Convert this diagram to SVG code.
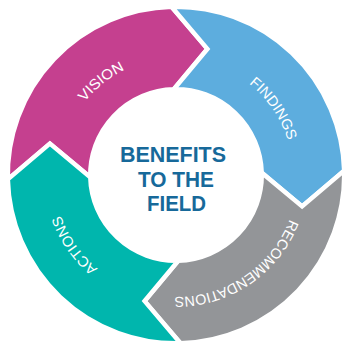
<svg xmlns="http://www.w3.org/2000/svg" xmlns:xlink="http://www.w3.org/1999/xlink" width="343" height="343" viewBox="0 0 343 343">
<style>
.seg{stroke:#fff;stroke-width:4.5;stroke-linejoin:miter}
.lbl{font-family:"Liberation Sans","DejaVu Sans",sans-serif;font-size:14.5px;fill:#fff;text-anchor:middle}
.ctr{font-family:"Liberation Sans","DejaVu Sans",sans-serif;font-weight:bold;font-size:21.5px;fill:#17699A;text-anchor:middle}
</style>
<defs>
<path id="c117" d="M176 58 A117 117 0 1 1 176 292 A117 117 0 1 1 176 58"/>
<path id="c122" d="M176 53 A122 122 0 1 1 176 297 A122 122 0 1 1 176 53"/>
</defs>
<rect width="343" height="343" fill="#fff"/>
<g id="vision">
<path class="seg" fill="#C5408F" d="M7.81 179.4 A168.25 168.25 0 0 1 171.6 6.81 L207.4 48.9 L173.76 89.28 A85.75 85.75 0 0 0 90.28 177.25 L49.9 143.6 Z"/>
<text class="lbl"><textPath xlink:href="#c117" startOffset="89.25%" textLength="52" lengthAdjust="spacingAndGlyphs">VISION</textPath></text>
</g>
<g id="findings">
<path class="seg" fill="#5DADDE" d="M171.6 6.81 A168.25 168.25 0 0 1 344.19 170.6 L302.1 206.4 L261.72 172.76 A85.75 85.75 0 0 0 173.76 89.28 L207.4 48.9 Z"/>
<text class="lbl"><textPath xlink:href="#c117" startOffset="15.47%" textLength="70" lengthAdjust="spacingAndGlyphs">FINDINGS</textPath></text>
</g>
<g id="recommendations">
<path class="seg" fill="#939598" d="M344.19 170.6 A168.25 168.25 0 0 1 180.4 343.19 L144.6 301.1 L178.25 260.72 A85.75 85.75 0 0 0 261.72 172.76 L302.1 206.4 Z"/>
<text class="lbl"><textPath xlink:href="#c122" startOffset="40.56%" textLength="148" lengthAdjust="spacingAndGlyphs">RECOMMENDATIONS</textPath></text>
</g>
<g id="actions">
<path class="seg" fill="#00B6AD" d="M180.4 343.19 A168.25 168.25 0 0 1 7.81 179.4 L49.9 143.6 L90.28 177.25 A85.75 85.75 0 0 0 178.25 260.72 L144.6 301.1 Z"/>
<text class="lbl"><textPath xlink:href="#c122" startOffset="65.36%" textLength="66" lengthAdjust="spacingAndGlyphs">ACTIONS</textPath></text>
</g>
<g id="center">
<text class="ctr" x="173" y="162" textLength="106" lengthAdjust="spacingAndGlyphs">BENEFITS</text>
<text class="ctr" x="176" y="187" textLength="76" lengthAdjust="spacingAndGlyphs">TO THE</text>
<text class="ctr" x="176.5" y="211" textLength="59" lengthAdjust="spacingAndGlyphs">FIELD</text>
</g>
<g id="connectors"></g>
</svg>
